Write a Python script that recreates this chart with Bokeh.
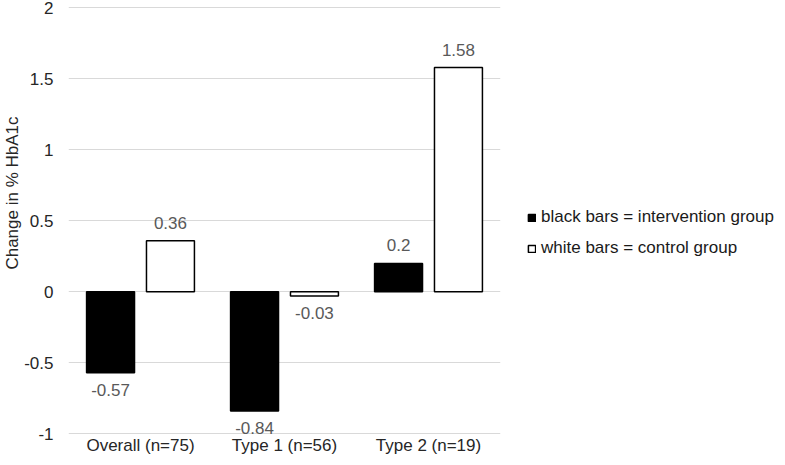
from bokeh.plotting import figure
from bokeh.models import (ColumnDataSource, FactorRange, Range1d, LabelSet, Legend, LegendItem,
                          FixedTicker, NumeralTickFormatter, Title)
from bokeh.core.properties import value
from bokeh.transform import dodge
from bokeh.embed import file_html
from bokeh.resources import INLINE

categories = ["Overall (n=75)", "Type 1 (n=56)", "Type 2 (n=19)"]
intervention = [-0.57, -0.84, 0.2]
control = [0.36, -0.03, 1.58]
y_ticks = [-1, -0.5, 0, 0.5, 1, 1.5, 2]
y_label = "Change in % HbA1c"
legend_labels = ["black bars = intervention group", "white bars = control group"]

FONT = "Liberation Sans"

def fmt(v):
    return ("%g" % v)

src_i = ColumnDataSource(dict(cat=categories, val=intervention,
                              lab=[fmt(v) for v in intervention],
                              off=[18 if v >= 0 else -17 for v in intervention]))
src_c = ColumnDataSource(dict(cat=categories, val=control,
                              lab=[fmt(v) for v in control],
                              off=[18 if v >= 0 else -17 for v in control]))

p = figure(frame_width=432, frame_height=434,
           x_range=FactorRange(factors=categories, range_padding=0),
           y_range=Range1d(-1.005, 2.052), output_backend="svg", toolbar_location=None,
           min_border_left=56, min_border_right=0, min_border_top=0, min_border_bottom=18)
p.outline_line_color = None
p.background_fill_color = "white"
p.border_fill_color = "white"

off = 0.208
w = 0.333
r1 = p.vbar(x=dodge("cat", -off, range=p.x_range), top="val", bottom=0, width=w, source=src_i,
            fill_color="black", line_color="black", line_width=1.5)
r2 = p.vbar(x=dodge("cat", off, range=p.x_range), top="val", bottom=0, width=w, source=src_c,
            fill_color="white", line_color="black", line_width=1.5)

for src, d in ((src_i, -off), (src_c, off)):
    p.add_layout(LabelSet(x=dodge("cat", d, range=p.x_range), y="val", text="lab", source=src,
                          y_offset="off", text_align="center", text_baseline="middle",
                          text_font=value(FONT), text_font_size="17px", text_color="#595959"))

p.xgrid.grid_line_color = None
p.ygrid.grid_line_color = "#d9d9d9"
p.ygrid.grid_line_width = 1
p.yaxis.ticker = FixedTicker(ticks=y_ticks)
p.yaxis.formatter = NumeralTickFormatter(format="0.[0]")
for ax in (p.xaxis[0], p.yaxis[0]):
    ax.axis_line_color = None
    ax.major_tick_line_color = None
    ax.minor_tick_line_color = None
    ax.major_label_text_font = FONT
    ax.major_label_text_font_size = "17px"
    ax.major_label_text_color = "#262626"
p.yaxis.major_label_standoff = 9
p.xaxis.major_label_standoff = -5

p.add_layout(Title(text=y_label, align="right", offset=116, text_font=FONT,
                   text_font_size="17px", text_font_style="normal", text_color="#262626",
                   standoff=0), "left")

legend = Legend(items=[LegendItem(label=legend_labels[0], renderers=[r1]),
                       LegendItem(label=legend_labels[1], renderers=[r2])],
                location=(27, 176), orientation="vertical", margin=0, padding=0,
                spacing=11, glyph_width=9, glyph_height=9, label_height=20,
                label_standoff=5, border_line_color=None, background_fill_alpha=0,
                label_text_font=FONT, label_text_font_size="17px", label_text_color="#1a1a1a")
p.add_layout(legend, "right")

open("out.html", "w").write(file_html(p, INLINE))
